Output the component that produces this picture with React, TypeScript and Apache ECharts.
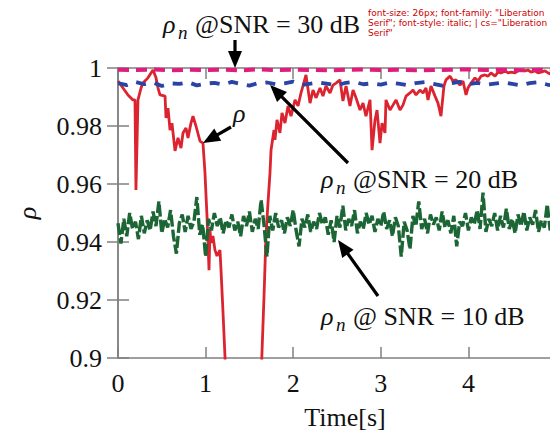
import React, { useEffect, useRef, useState } from "react";
import * as echarts from "echarts";

const FONT = "Liberation Serif";

const xTicks = [0, 1, 2, 3, 4, 5];
const yMin = 0.9;
const yMax = 1;

const rhoSeries: [number, number][] = [
  [0, 0.9955], [0.057, 0.9931], [0.114, 0.9907], [0.171, 0.989], [0.194, 0.989], [0.205, 0.9579],
  [0.228, 0.989], [0.263, 0.9931], [0.285, 0.9948], [0.342, 0.9966], [0.377, 0.9983], [0.4, 0.9993],
  [0.434, 0.9966], [0.457, 0.9931], [0.479, 0.9907], [0.537, 0.9903], [0.548, 0.9828], [0.571, 0.9862],
  [0.594, 0.9786], [0.616, 0.981], [0.651, 0.9714], [0.685, 0.9759], [0.719, 0.9724], [0.742, 0.9776],
  [0.776, 0.9793], [0.799, 0.9759], [0.833, 0.981], [0.856, 0.9834], [0.89, 0.98], [0.936, 0.9748],
  [0.97, 0.9741], [0.993, 0.9638], [1.005, 0.9559], [1.016, 0.949], [1.039, 0.9303], [1.05, 0.9441],
  [1.062, 0.9397], [1.084, 0.9421], [1.107, 0.9372], [1.13, 0.9352], [1.164, 0.9372], [1.176, 0.9303],
  [1.199, 0.9155], [1.221, 0.9007], [1.244, 0.8828], [1.621, 0.8828], [1.667, 0.9214], [1.689, 0.9421],
  [1.712, 0.9534], [1.735, 0.9638], [1.747, 0.9717], [1.781, 0.9786], [1.792, 0.9752], [1.815, 0.9821],
  [1.849, 0.9776], [1.872, 0.9845], [1.906, 0.981], [1.941, 0.9869], [1.975, 0.9834], [2.021, 0.989],
  [2.055, 0.9869], [2.089, 0.9914], [2.112, 0.9938], [2.146, 0.9976], [2.192, 0.9879], [2.226, 0.9924],
  [2.26, 0.9897], [2.306, 0.9931], [2.34, 0.9903], [2.374, 0.9938], [2.42, 0.9914], [2.454, 0.9941],
  [2.489, 0.9948], [2.534, 0.9959], [2.568, 0.9886], [2.603, 0.9938], [2.648, 0.9869], [2.683, 0.9924],
  [2.717, 0.9897], [2.763, 0.9855], [2.797, 0.9879], [2.831, 0.9834], [2.877, 0.989], [2.9, 0.9717],
  [2.934, 0.9821], [2.957, 0.9855], [2.991, 0.9741], [3.014, 0.981], [3.048, 0.9776], [3.059, 0.989],
  [3.105, 0.9855], [3.139, 0.9872], [3.174, 0.989], [3.219, 0.9855], [3.253, 0.9872], [3.288, 0.9903],
  [3.333, 0.9914], [3.368, 0.9924], [3.402, 0.9907], [3.447, 0.9924], [3.482, 0.9914], [3.516, 0.9931],
  [3.539, 0.989], [3.573, 0.9938], [3.619, 0.9903], [3.653, 0.9879], [3.687, 0.9834], [3.721, 0.9938],
  [3.744, 0.9959], [3.79, 0.9972], [3.824, 0.9955], [3.858, 0.9959], [3.904, 0.9941], [3.938, 0.9955],
  [3.973, 0.9907], [3.995, 0.9931], [4.03, 0.9948], [4.075, 0.9966], [4.11, 0.9955], [4.144, 0.9972],
  [4.189, 0.9976], [4.224, 0.9972], [4.258, 0.9983], [4.304, 0.9972], [4.338, 0.9986], [4.372, 0.9983],
  [4.418, 0.999], [4.452, 0.9983], [4.486, 0.9986], [4.532, 0.9983], [4.566, 0.999], [4.6, 0.9993],
  [4.646, 0.999], [4.68, 0.9993], [4.715, 0.9986], [4.76, 0.999], [4.795, 0.9983], [4.829, 0.9986],
  [4.874, 0.999], [4.909, 0.9983], [4.943, 0.9979], [4.989, 0.9986], [5, 0.9979],
];

const snr10Step = 1 / 30;
const snr10Values = [
  0.9465, 0.9395, 0.948, 0.942, 0.95, 0.9445, 0.947, 0.941, 0.949, 0.943,
  0.9475, 0.944, 0.9505, 0.9455, 0.954, 0.943, 0.948, 0.945, 0.951, 0.942,
  0.936, 0.9465, 0.9495, 0.9435, 0.949, 0.9445, 0.947, 0.9555, 0.9425, 0.946,
  0.935, 0.948, 0.944, 0.95, 0.9455, 0.9485, 0.943, 0.9475, 0.945, 0.9495,
  0.944, 0.947, 0.942, 0.949, 0.9455, 0.9505, 0.9435, 0.948, 0.9445, 0.9545,
  0.946, 0.935, 0.949, 0.944, 0.95, 0.945, 0.9475, 0.943, 0.9485, 0.9455,
  0.951, 0.944, 0.9385, 0.948, 0.945, 0.9495, 0.9435, 0.947, 0.9445, 0.95,
  0.946, 0.9485, 0.9425, 0.9475, 0.94, 0.949, 0.945, 0.9525, 0.944, 0.948,
  0.9455, 0.951, 0.943, 0.947, 0.9445, 0.95, 0.946, 0.949, 0.9435, 0.948,
  0.9455, 0.9505, 0.9445, 0.9475, 0.942, 0.9485, 0.9455, 0.935, 0.947, 0.944,
  0.9375, 0.949, 0.9455, 0.954, 0.9445, 0.948, 0.943, 0.9495, 0.946, 0.9485,
  0.944, 0.9505, 0.945, 0.9475, 0.943, 0.949, 0.9385, 0.947, 0.9455, 0.95,
  0.944, 0.9485, 0.946, 0.951, 0.9445, 0.957, 0.9435, 0.948, 0.9455, 0.95,
  0.944, 0.949, 0.945, 0.9515, 0.9445, 0.948, 0.943, 0.9495, 0.9455, 0.9505,
  0.944, 0.9485, 0.946, 0.951, 0.9435, 0.9475, 0.945, 0.953, 0.944, 0.9495,
  0.942,
];

const snr20Step = 0.1;
const snr20Values = [
  0.9948, 0.9941, 0.9952, 0.9944, 0.995, 0.9938, 0.9947, 0.9945, 0.9951, 0.994,
  0.9946, 0.9949, 0.9943, 0.9952, 0.9945, 0.9939, 0.9948, 0.995, 0.9944, 0.9947,
  0.9953, 0.9942, 0.9946, 0.995, 0.9945, 0.994, 0.9949, 0.9952, 0.9944, 0.9947,
  0.9943, 0.995, 0.9946, 0.9941, 0.9948, 0.9951, 0.9945, 0.9939, 0.9947, 0.9952,
  0.9944, 0.9949, 0.9942, 0.9946, 0.995, 0.9945, 0.994, 0.9948, 0.9951, 0.9943,
  0.9937,
];

const snr30Step = 0.2;
const snr30Values = [
  0.9994, 0.9993, 0.9995, 0.9992, 0.9994, 0.9993, 0.9994, 0.9992, 0.9995, 0.9993,
  0.9994, 0.9993, 0.9992, 0.9994, 0.9995, 0.9993, 0.9994, 0.9992, 0.9993, 0.9994,
  0.9995, 0.9993, 0.9994, 0.9992, 0.9994, 0.9993,
];

const toPairs = (vals: number[], step: number) =>
  vals.map((v, i) => [+(i * step).toFixed(4), v]);

function arrow(x1: number, y1: number, x2: number, y2: number) {
  const dx = x2 - x1, dy = y2 - y1;
  const L = Math.hypot(dx, dy);
  const ux = dx / L, uy = dy / L;
  const hl = 17, hw = 7;
  const bx = x2 - ux * hl, by = y2 - uy * hl;
  const px = -uy, py = ux;
  return [
    { type: "line", shape: { x1, y1, x2: bx + ux * 2, y2: by + uy * 2 }, style: { stroke: "#000", lineWidth: 3.2 }, z: 100 },
    {
      type: "polygon",
      shape: { points: [[x2, y2], [bx + px * hw, by + py * hw], [bx - px * hw, by - py * hw]] },
      style: { fill: "#000" },
      z: 100,
    },
  ];
}

function txt(x: number, y: number, text: string, size: number, italic: boolean) {
  const style: any = { text, fontFamily: FONT, fontSize: size, fill: "#111", verticalAlign: "middle", align: "left" };
  if (italic) style.fontStyle = "italic";
  return { type: "text", x, y, z: 100, style };
}

function snrLabel(x: number, baseline: number, rest: string) {
  return [
    txt(x, baseline - 9, "ρ", 26, true),
    txt(x + 15, baseline - 1, "n", 19, true),
    txt(x + 32, baseline - 9, rest, 26, false),
  ];
}

function buildOption() {
  const axisColor = "#808080";
  const labelStyle = { fontSize: 26, color: "#111", fontFamily: FONT };
  const frameAxis = {
    axisLine: { lineStyle: { color: axisColor, width: 1.5 } },
    axisTick: { inside: true, length: 11, lineStyle: { color: axisColor, width: 1.5 } },
    splitLine: { show: false },
  };
  return {
    animation: false,
    backgroundColor: "#fff",
    grid: { left: 110, right: 10, top: 60, bottom: 82, outerBoundsMode: "none" },
    xAxis: [
      {
        type: "value", min: xTicks[0], max: xTicks[xTicks.length - 1], interval: 1, position: "bottom",
        ...frameAxis,
        axisLabel: { ...labelStyle, margin: 12 },
        name: "Time[s]", nameLocation: "middle", nameGap: 46,
        nameTextStyle: { ...labelStyle, padding: [0, 0, 0, 16] },
      },
      { type: "value", min: xTicks[0], max: xTicks[xTicks.length - 1], interval: 1, position: "top", ...frameAxis, axisLabel: { show: false } },
    ],
    yAxis: [
      {
        type: "value", min: yMin, max: yMax, interval: 0.02, position: "left",
        ...frameAxis,
        axisLabel: { ...labelStyle, margin: 16, formatter: (v: number) => String(+v.toFixed(2)) },
        name: "ρ", nameLocation: "middle", nameRotate: 90, nameGap: 78,
        nameTextStyle: { ...labelStyle, fontStyle: "italic" },
      },
      { type: "value", min: yMin, max: yMax, interval: 0.02, position: "right", ...frameAxis, axisLabel: { show: false } },
    ],
    series: [
      { name: "ρ", type: "line", data: rhoSeries, showSymbol: false, clip: true, lineStyle: { color: "#dc2430", width: 2.8 }, z: 2 },
      { name: "ρn @ SNR = 10 dB", type: "line", data: toPairs(snr10Values, snr10Step), showSymbol: false, lineStyle: { color: "#1b6634", width: 3.4, type: [12, 3] }, z: 3 },
      { name: "ρn @SNR = 20 dB", type: "line", data: toPairs(snr20Values, snr20Step), showSymbol: false, lineStyle: { color: "#2a44a6", width: 3.8, type: [10, 9] }, z: 4 },
      { name: "ρn @SNR = 30 dB", type: "line", data: toPairs(snr30Values, snr30Step), showSymbol: false, lineStyle: { color: "#e01c7c", width: 4, type: [11, 7] }, z: 5 },
    ],
    graphic: [
      ...arrow(227, 32, 227, 60),
      ...arrow(223, 119, 195, 135),
      ...arrow(340, 155, 262, 77),
      ...arrow(370, 288, 330, 232),
      ...snrLabel(155, 25, "@SNR = 30 dB"),
      ...snrLabel(313, 180, "@SNR = 20 dB"),
      ...snrLabel(313, 317, "@ SNR = 10 dB"),
      txt(225, 105, "ρ", 26, true),
    ],
  };
}

export default function App() {
  const ref = useRef<HTMLDivElement>(null);
  const [diag, setDiag] = useState("");

  useEffect(() => {
    if (!ref.current) return;
    const chart = echarts.init(ref.current, undefined, { renderer: "svg" });
    chart.setOption(buildOption() as any);
    const t = ref.current.querySelector("text");
    if (t) {
      setDiag(
        (t.getAttribute("style") || "no-style") + " | cs=" + getComputedStyle(t).fontFamily
      );
    }
    return () => chart.dispose();
  }, []);

  return (
    <div style={{ position: "relative", width: 558, height: 432 }}>
      <div ref={ref} style={{ width: 558, height: 432 }} />
      <div style={{ position: "absolute", left: 360, top: 0, width: 190, fontSize: 9, fontFamily: "DejaVu Sans", color: "#c00", lineHeight: "10px" }}>
        {diag}
      </div>
    </div>
  );
}
